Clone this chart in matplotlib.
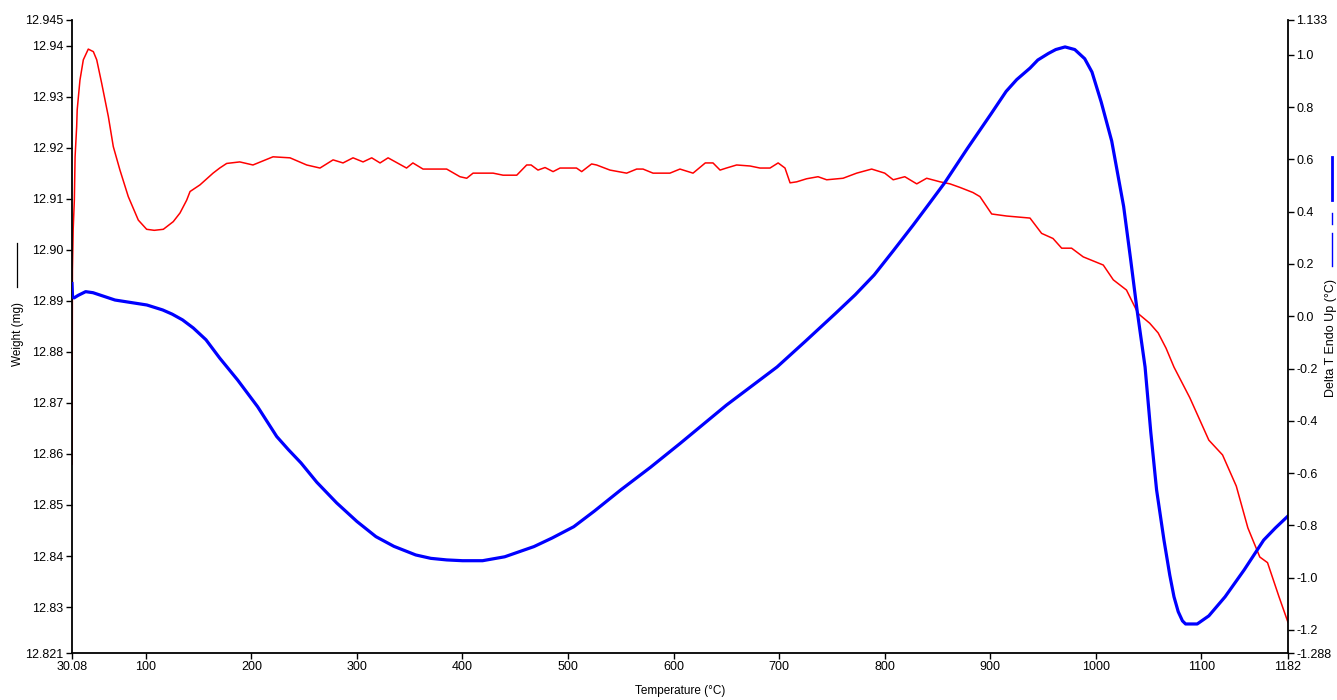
import matplotlib.pyplot as plt
from matplotlib.lines import Line2D

# TGA weight curve (red, left axis)
temp_w = [30.08, 30.5, 31.2, 32.3, 33.0, 34.5, 35.0, 37.6, 40.8, 45.5, 50.3, 53.5, 58.2, 64.5,
          69.2, 75.5, 83.4, 92.9, 100.8, 108, 116.6, 126, 132.4, 138.7, 141.9, 151.3, 163.7,
          170, 176.6, 189, 201.5, 220.5, 236.6, 252.4, 265, 277.4, 286.8, 296.3, 305.8, 314,
          321.9, 329.5, 347, 353, 362.6, 385, 397.6, 404, 410, 429, 438.4, 451.4, 460.8, 465,
          471.5, 478.2, 485.8, 492.4, 508, 512.9, 522.3, 527, 539.7, 555.5, 565, 571, 580.5,
          596.5, 606, 618.4, 630, 637.3, 644, 650, 659.7, 672.4, 681.8, 691.3, 699, 705.5,
          710.3, 716.6, 726, 736.8, 745, 760.5, 773.4, 787.6, 800, 808, 819, 830.3, 839.7,
          852.4, 861.8, 871.3, 883.6, 890.2, 901.3, 915.5, 937.6, 948.6, 959.4, 967.6, 977,
          988, 1007, 1016.5, 1029, 1040, 1051, 1059, 1066.5, 1074, 1089, 1107, 1120, 1133,
          1144, 1155.3, 1162.6, 1173.5, 1182]
weight = [12.858, 12.896, 12.904, 12.9097, 12.9182, 12.9241, 12.9274, 12.9332, 12.9372, 12.9393,
          12.9388, 12.9372, 12.9326, 12.9261, 12.9202, 12.9156, 12.9104, 12.9058, 12.904,
          12.9038, 12.904, 12.9055, 12.9072, 12.9097, 12.9114, 12.9127, 12.915, 12.916, 12.9169,
          12.9172, 12.9166, 12.9182, 12.918, 12.9166, 12.916, 12.9176, 12.917, 12.918, 12.9172,
          12.918, 12.917, 12.918, 12.916, 12.917, 12.9158, 12.9158, 12.9143, 12.914, 12.915,
          12.915, 12.9146, 12.9146, 12.9166, 12.9166, 12.9156, 12.9161, 12.9153, 12.916, 12.916,
          12.9153, 12.9168, 12.9166, 12.9156, 12.915, 12.9158, 12.9158, 12.915, 12.915, 12.9158,
          12.915, 12.917, 12.917, 12.9156, 12.916, 12.9166, 12.9164, 12.916, 12.916, 12.917,
          12.916, 12.9131, 12.9133, 12.9139, 12.9143, 12.9137, 12.914, 12.915, 12.9158, 12.915,
          12.9137, 12.9143, 12.9129, 12.914, 12.9133, 12.9129, 12.9122, 12.9112, 12.9104, 12.907,
          12.9066, 12.9062, 12.9032, 12.9022, 12.9003, 12.9003, 12.8986, 12.897, 12.8941,
          12.8921, 12.8875, 12.8856, 12.8837, 12.8807, 12.877, 12.871, 12.8627, 12.8598,
          12.8537, 12.8455, 12.8398, 12.8387, 12.832, 12.827]

# DTA curve (blue, right axis)
temp_d = [30.08, 30.6, 32, 36, 43, 50, 70.8, 101, 116, 125, 134.8, 145, 157, 170, 187, 205.9,
          224, 235, 247, 262, 280.8, 300, 318, 335, 355.7, 370, 385, 400, 419, 440, 467.7,
          485, 505.4, 525, 550, 578, 606, 650, 698, 725, 753.4, 772, 790, 808, 827, 842,
          856.7, 878, 900.7, 915, 925, 937.6, 945, 955, 962, 970.8, 980, 989.4, 996.3, 1005,
          1015, 1026.3, 1033, 1039, 1046.6, 1052, 1057.5, 1064.5, 1070, 1074, 1078, 1082,
          1085, 1096, 1107, 1122.4, 1140.5, 1159, 1170, 1182]
delta_t = [0.125, 0.075, 0.07, 0.08, 0.094, 0.09, 0.062, 0.043, 0.024, 0.008, -0.014, -0.045,
           -0.09, -0.16, -0.244, -0.346, -0.46, -0.51, -0.561, -0.635, -0.714, -0.785, -0.843,
           -0.88, -0.913, -0.926, -0.932, -0.935, -0.935, -0.92, -0.881, -0.848, -0.805,
           -0.745, -0.664, -0.578, -0.487, -0.34, -0.194, -0.095, 0.011, 0.082, 0.158, 0.25,
           0.349, 0.43, 0.51, 0.64, 0.774, 0.86, 0.905, 0.949, 0.98, 1.005, 1.02, 1.03, 1.02,
           0.985, 0.934, 0.82, 0.67, 0.42, 0.215, 0.024, -0.194, -0.443, -0.664, -0.856, -0.99,
           -1.073, -1.13, -1.165, -1.177, -1.177, -1.146, -1.073, -0.97, -0.856, -0.81, -0.764]

x_ticks = [30.08, 100, 200, 300, 400, 500, 600, 700, 800, 900, 1000, 1100, 1182]
x_labels = ['30.08', '100', '200', '300', '400', '500', '600', '700', '800', '900', '1000', '1100', '1182']
w_ticks = [12.821, 12.83, 12.84, 12.85, 12.86, 12.87, 12.88, 12.89, 12.90, 12.91, 12.92, 12.93, 12.94, 12.945]
w_labels = ['12.821', '12.83', '12.84', '12.85', '12.86', '12.87', '12.88', '12.89', '12.90',
            '12.91', '12.92', '12.93', '12.94', '12.945']
d_ticks = [-1.288, -1.2, -1.0, -0.8, -0.6, -0.4, -0.2, 0.0, 0.2, 0.4, 0.6, 0.8, 1.0, 1.133]
d_labels = ['-1.288', '-1.2', '-1.0', '-0.8', '-0.6', '-0.4', '-0.2', '0.0', '0.2', '0.4',
            '0.6', '0.8', '1.0', '1.133']

plt.rcParams['font.family'] = ['Liberation Sans', 'DejaVu Sans']

W, H = 1337, 700
fig = plt.figure(figsize=(W / 100, H / 100), dpi=100)
ax = fig.add_axes([72 / W, 1 - 653 / H, (1288 - 72) / W, (653 - 20) / H])
ax2 = ax.twinx()

ax.plot(temp_w, weight, color='#ff0000', lw=1.1)
ax2.plot(temp_d, delta_t, color='#0000ff', lw=2.3)

ax.set_xlim(30.08, 1182)
ax.set_ylim(12.821, 12.945)
ax2.set_ylim(-1.288, 1.133)

ax.set_xticks(x_ticks)
ax.set_xticklabels(x_labels)
ax.set_yticks(w_ticks)
ax.set_yticklabels(w_labels)
ax2.set_yticks(d_ticks)
ax2.set_yticklabels(d_labels)

for a in (ax, ax2):
    a.spines['top'].set_visible(False)
    for s in a.spines.values():
        s.set_linewidth(1.3)
    a.tick_params(direction='out', length=4, width=1, labelsize=9, pad=2)
ax.spines['right'].set_visible(False)
ax2.spines['left'].set_visible(False)
ax2.spines['bottom'].set_visible(False)

fig.text(680 / W, 1 - 691 / H, 'Temperature (°C)', ha='center', va='center', fontsize=8.5)

# left axis title with its line key
fig.text(18 / W, 1 - 334 / H, 'Weight (mg)', rotation=90, ha='center', va='center', fontsize=8.5)
fig.add_artist(Line2D([17 / W, 17 / W], [1 - 243 / H, 1 - 287 / H], color='black', lw=0.9,
                      transform=fig.transFigure))

# right axis title with blue line keys
fig.text(1331 / W, 1 - 338 / H, 'Delta T Endo Up (°C)', rotation=90, ha='center', va='center',
         fontsize=9)
fig.add_artist(Line2D([1332 / W, 1332 / W], [1 - 157 / H, 1 - 200 / H], color='#0000ff', lw=2,
                      transform=fig.transFigure))
fig.add_artist(Line2D([1332 / W, 1332 / W], [1 - 213 / H, 1 - 224 / H], color='#0000ff', lw=1,
                      transform=fig.transFigure))
fig.add_artist(Line2D([1332 / W, 1332 / W], [1 - 233 / H, 1 - 266 / H], color='#0000ff', lw=1,
                      transform=fig.transFigure))

fig.savefig('out.png', dpi=100)
